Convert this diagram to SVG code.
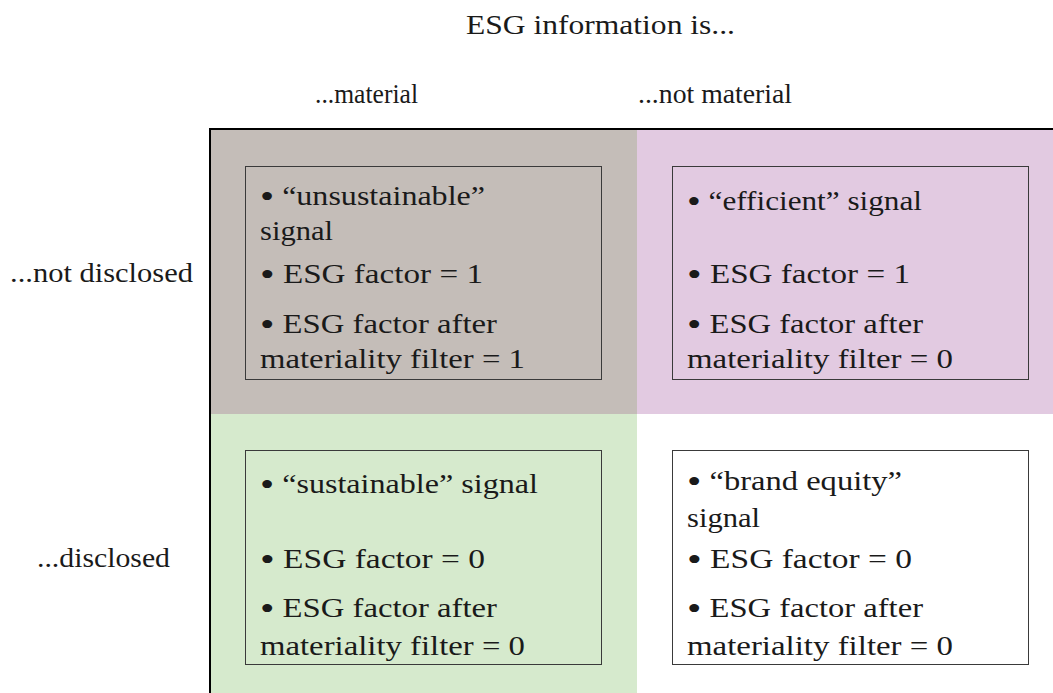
<svg xmlns="http://www.w3.org/2000/svg" width="1053" height="693" viewBox="0 0 1053 693">
  <style>
    text { font-family: "Liberation Serif", "Times New Roman", serif; font-size: 27px; fill: #1a1a1a; }
    .b { font-size: 34px; }
    .box { fill: none; stroke: #3a3a3a; stroke-width: 1; }
    .axis { stroke: #000; stroke-width: 2; fill: none; }
  </style>

  <!-- quadrant backgrounds -->
  <rect x="211" y="130" width="426" height="284" fill="#c4bdb8"/>
  <rect x="637" y="130" width="416" height="284" fill="#e2cae1"/>
  <rect x="211" y="414" width="426" height="279" fill="#d6eacd"/>

  <!-- axes -->
  <g id="axes">
    <path class="axis" d="M210,693 V129 H1053"/>
  </g>

  <!-- headings -->
  <g id="headings">
    <text x="466" y="34" textLength="269" lengthAdjust="spacingAndGlyphs">ESG information is...</text>
    <text x="315" y="103" textLength="103" lengthAdjust="spacingAndGlyphs">...material</text>
    <text x="638" y="103" textLength="154" lengthAdjust="spacingAndGlyphs">...not material</text>
    <text x="10" y="282" textLength="183" lengthAdjust="spacingAndGlyphs">...not disclosed</text>
    <text x="37" y="567" textLength="133" lengthAdjust="spacingAndGlyphs">...disclosed</text>
  </g>

  <!-- material / not disclosed -->
  <g id="cell-unsustainable">
    <rect class="box" x="245.5" y="166.5" width="356" height="213"/>
    <text x="260" y="205" textLength="225" lengthAdjust="spacingAndGlyphs"><tspan class="b" dy="3">•</tspan><tspan dy="-3"> “unsustainable”</tspan></text>
    <text x="260" y="240" textLength="73" lengthAdjust="spacingAndGlyphs">signal</text>
    <text x="260" y="283" textLength="223" lengthAdjust="spacingAndGlyphs"><tspan class="b" dy="3">•</tspan><tspan dy="-3"> ESG factor = 1</tspan></text>
    <text x="260" y="333" textLength="237" lengthAdjust="spacingAndGlyphs"><tspan class="b" dy="3">•</tspan><tspan dy="-3"> ESG factor after</tspan></text>
    <text x="260" y="368" textLength="265" lengthAdjust="spacingAndGlyphs">materiality filter = 1</text>
  </g>

  <!-- not material / not disclosed -->
  <g id="cell-efficient">
    <rect class="box" x="672.5" y="166.5" width="356" height="213"/>
    <text x="687" y="210" textLength="235" lengthAdjust="spacingAndGlyphs"><tspan class="b" dy="3">•</tspan><tspan dy="-3"> “efficient” signal</tspan></text>
    <text x="687" y="283" textLength="223" lengthAdjust="spacingAndGlyphs"><tspan class="b" dy="3">•</tspan><tspan dy="-3"> ESG factor = 1</tspan></text>
    <text x="687" y="333" textLength="236" lengthAdjust="spacingAndGlyphs"><tspan class="b" dy="3">•</tspan><tspan dy="-3"> ESG factor after</tspan></text>
    <text x="687" y="368" textLength="266" lengthAdjust="spacingAndGlyphs">materiality filter = 0</text>
  </g>

  <!-- material / disclosed -->
  <g id="cell-sustainable">
    <rect class="box" x="245.5" y="450.5" width="356" height="214"/>
    <text x="260" y="493" textLength="278" lengthAdjust="spacingAndGlyphs"><tspan class="b" dy="3">•</tspan><tspan dy="-3"> “sustainable” signal</tspan></text>
    <text x="260" y="568" textLength="225" lengthAdjust="spacingAndGlyphs"><tspan class="b" dy="3">•</tspan><tspan dy="-3"> ESG factor = 0</tspan></text>
    <text x="260" y="617" textLength="237" lengthAdjust="spacingAndGlyphs"><tspan class="b" dy="3">•</tspan><tspan dy="-3"> ESG factor after</tspan></text>
    <text x="260" y="655" textLength="265" lengthAdjust="spacingAndGlyphs">materiality filter = 0</text>
  </g>

  <!-- not material / disclosed -->
  <g id="cell-brand-equity">
    <rect class="box" x="672.5" y="450.5" width="356" height="214"/>
    <text x="687" y="490" textLength="215" lengthAdjust="spacingAndGlyphs"><tspan class="b" dy="3">•</tspan><tspan dy="-3"> “brand equity”</tspan></text>
    <text x="687" y="527" textLength="73" lengthAdjust="spacingAndGlyphs">signal</text>
    <text x="687" y="568" textLength="225" lengthAdjust="spacingAndGlyphs"><tspan class="b" dy="3">•</tspan><tspan dy="-3"> ESG factor = 0</tspan></text>
    <text x="687" y="617" textLength="236" lengthAdjust="spacingAndGlyphs"><tspan class="b" dy="3">•</tspan><tspan dy="-3"> ESG factor after</tspan></text>
    <text x="687" y="655" textLength="266" lengthAdjust="spacingAndGlyphs">materiality filter = 0</text>
  </g>
</svg>
